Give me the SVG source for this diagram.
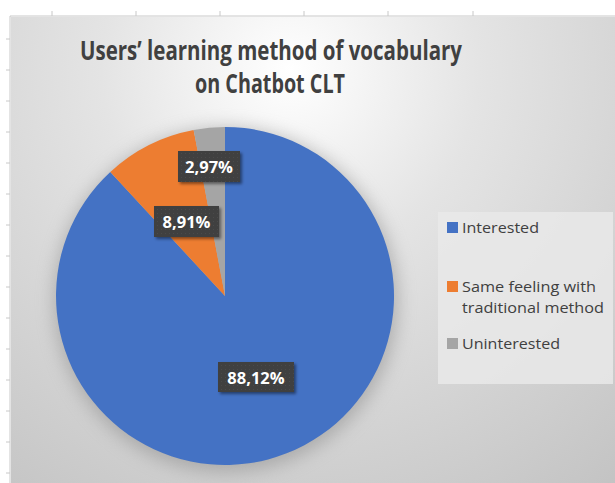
<svg xmlns="http://www.w3.org/2000/svg" width="615" height="483" viewBox="0 0 615 483">
<defs>
<radialGradient id="bg" cx="290" cy="70" r="540" gradientUnits="userSpaceOnUse">
<stop offset="0" stop-color="#ffffff"/>
<stop offset="0.35" stop-color="#e4e4e4"/>
<stop offset="1" stop-color="#c2c2c2"/>
</radialGradient>
<filter id="blur" x="-30%" y="-30%" width="160%" height="160%"><feGaussianBlur stdDeviation="9"/></filter>
<filter id="lblsh" x="-20%" y="-30%" width="150%" height="180%"><feGaussianBlur stdDeviation="1.5"/></filter>
<pattern id="dots" width="4" height="4" patternUnits="userSpaceOnUse">
<rect width="4" height="4" fill="#404040"/>
<rect x="1" y="1" width="1" height="1" fill="#4a4a4a"/>
</pattern>
</defs>
<style>
.tick{stroke:#c8c8c8;stroke-width:1}
.title{font-family:"Open Sans","Liberation Sans",sans-serif;font-weight:700;font-size:26px;fill:#404040}
.lbl{font-family:"Open Sans","Liberation Sans",sans-serif;font-weight:700;font-size:16.5px;fill:#ffffff}
.lbox{fill:url(#dots)}
.lsh{fill:#000;opacity:0.45}
.leg{font-family:"Open Sans","Liberation Sans",sans-serif;font-size:14.5px;fill:#404040}
</style>
<rect width="615" height="483" fill="#ffffff"/>
<g id="axes">
<line class="tick" x1="10" y1="16" x2="615" y2="16"/>
<line class="tick" x1="10" y1="16" x2="10" y2="483"/>
<g class="tick">
<line x1="52" y1="11" x2="52" y2="16"/><line x1="136" y1="11" x2="136" y2="16"/><line x1="220" y1="11" x2="220" y2="16"/><line x1="304" y1="11" x2="304" y2="16"/><line x1="388" y1="11" x2="388" y2="16"/><line x1="473" y1="11" x2="473" y2="16"/>
<line x1="6" y1="39" x2="10" y2="39"/><line x1="6" y1="70" x2="10" y2="70"/><line x1="6" y1="101" x2="10" y2="101"/><line x1="6" y1="132" x2="10" y2="132"/><line x1="6" y1="163" x2="10" y2="163"/><line x1="6" y1="194" x2="10" y2="194"/><line x1="6" y1="225" x2="10" y2="225"/><line x1="6" y1="256" x2="10" y2="256"/><line x1="6" y1="287" x2="10" y2="287"/><line x1="6" y1="318" x2="10" y2="318"/><line x1="6" y1="349" x2="10" y2="349"/><line x1="6" y1="380" x2="10" y2="380"/><line x1="6" y1="411" x2="10" y2="411"/><line x1="6" y1="442" x2="10" y2="442"/><line x1="6" y1="473" x2="10" y2="473"/>
</g>
</g>
<rect id="chartbg" x="11" y="17" width="604" height="466" fill="url(#bg)"/>
<g id="title">
<text class="title" x="271" y="60" text-anchor="middle" textLength="382" lengthAdjust="spacingAndGlyphs">Users’ learning method of vocabulary</text>
<text class="title" x="270" y="93" text-anchor="middle" textLength="150" lengthAdjust="spacingAndGlyphs">on Chatbot CLT</text>
</g>
<circle cx="226" cy="300" r="172" fill="#8a8a8a" opacity="0.55" filter="url(#blur)"/>
<g id="pie">
<path id="slice-interested" d="M225,296 L225,127 A169,169 0 1 1 110.3,171.9 Z" fill="#4472C4"/>
<path id="slice-same" d="M225,296 L110.3,171.9 A169,169 0 0 1 193.65,129.94 Z" fill="#ED7D31"/>
<path id="slice-uninterested" d="M225,296 L193.65,129.94 A169,169 0 0 1 225,127 Z" fill="#A5A5A5"/>
</g>
<g id="label-297">
<rect class="lsh" x="180" y="153" width="62" height="31" filter="url(#lblsh)"/>
<rect class="lbox" x="178" y="151" width="62" height="31"/>
<text class="lbl" x="209" y="173" text-anchor="middle">2,97%</text>
</g>
<g id="label-891">
<rect class="lsh" x="156" y="208" width="65" height="31" filter="url(#lblsh)"/>
<rect class="lbox" x="154" y="206" width="65" height="31"/>
<text class="lbl" x="186.5" y="228" text-anchor="middle">8,91%</text>
</g>
<g id="label-8812">
<rect class="lsh" x="220" y="364" width="76" height="30" filter="url(#lblsh)"/>
<rect class="lbox" x="218" y="362" width="76" height="30"/>
<text class="lbl" x="256" y="384" text-anchor="middle">88,12%</text>
</g>
<g id="legend">
<rect x="438" y="212" width="175" height="172" fill="#e9e9e9" opacity="0.85"/>
<rect x="447" y="222" width="11" height="11" fill="#4472C4"/>
<text class="leg" x="462" y="233" textLength="77" lengthAdjust="spacingAndGlyphs">Interested</text>
<rect x="447" y="281" width="11" height="11" fill="#ED7D31"/>
<text class="leg" x="462" y="292" textLength="134" lengthAdjust="spacingAndGlyphs">Same feeling with</text>
<text class="leg" x="462" y="313" textLength="142" lengthAdjust="spacingAndGlyphs">traditional method</text>
<rect x="447" y="338" width="11" height="11" fill="#A5A5A5"/>
<text class="leg" x="462" y="349" textLength="98" lengthAdjust="spacingAndGlyphs">Uninterested</text>
</g>
</svg>
